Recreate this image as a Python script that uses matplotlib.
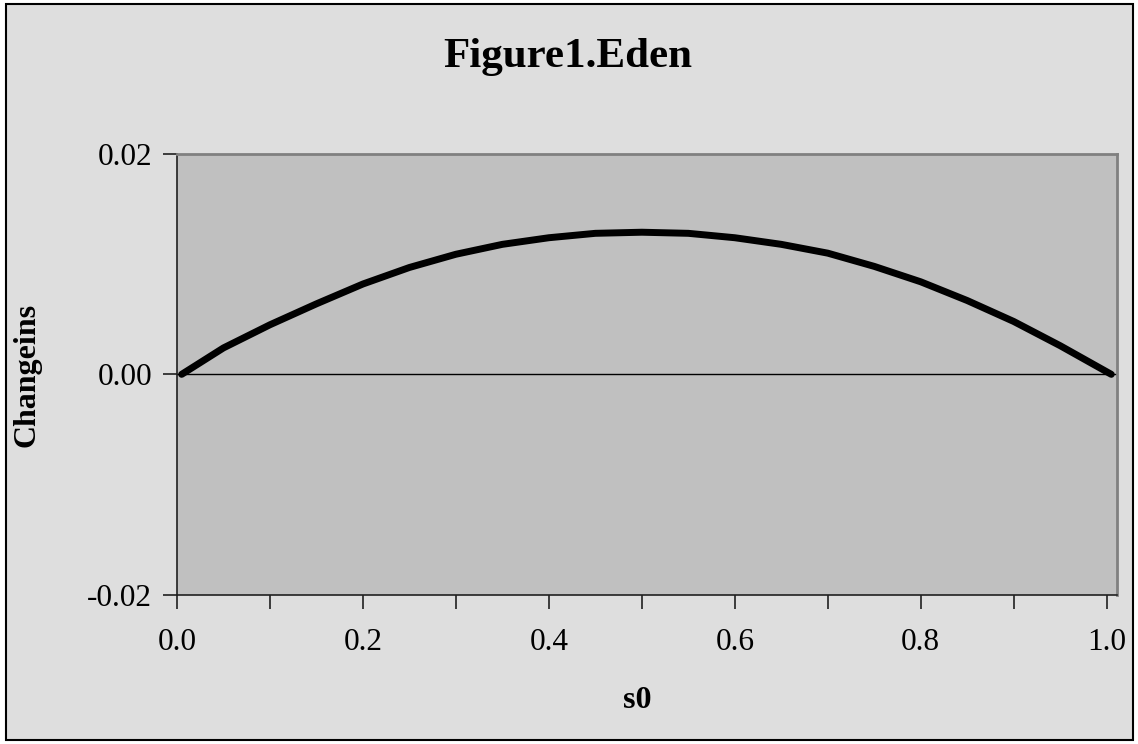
import matplotlib
matplotlib.use("Agg")
import matplotlib.pyplot as plt
from matplotlib.patches import Rectangle
from matplotlib.ticker import MultipleLocator, FixedLocator

# Data
s0 = [0.005, 0.05, 0.1, 0.15, 0.2, 0.25, 0.3, 0.35, 0.4, 0.45, 0.5,
      0.55, 0.6, 0.65, 0.7, 0.75, 0.8, 0.85, 0.9, 0.95, 1.005]
change = [0.0, 0.0024, 0.0045, 0.0064, 0.0082, 0.0097, 0.0109, 0.0118, 0.0124,
          0.0128, 0.0129, 0.0128, 0.0124, 0.0118, 0.0110, 0.0098, 0.0084,
          0.0067, 0.0048, 0.0026, 0.0]
x_ticks = [0.0, 0.2, 0.4, 0.6, 0.8, 1.0]
x_tick_labels = ["0.0", "0.2", "0.4", "0.6", "0.8", "1.0"]
y_ticks = [-0.02, 0.0, 0.02]
y_tick_labels = ["-0.02", "0.00", "0.02"]
title = "Figure1.Eden"
xlabel = "s0"
ylabel = "Changeins"

W, H = 1138, 744
fig = plt.figure(figsize=(W / 100, H / 100), dpi=100)
fig.patch.set_facecolor("white")
plt.rcParams["font.family"] = ["Liberation Serif", "DejaVu Serif"]

# outer chart area with black border
fig.patches.append(Rectangle((6 / W, 1 - 740 / H), (1133 - 6) / W, (740 - 4) / H,
                             transform=fig.transFigure, facecolor="#DEDEDE",
                             edgecolor="black", linewidth=1.5, zorder=-10))

ax = fig.add_axes([177 / W, 1 - 594.7 / H, 939.7 / W, 440.7 / H])
ax.set_zorder(1)
ax.set_facecolor("#C0C0C0")
ax.set_xlim(0.0, 1.0108)
ax.set_ylim(-0.02, 0.02)

ax.axhline(0.0, color="black", linewidth=1.0, zorder=2)
ax.plot(s0, change, color="black", linewidth=5, solid_capstyle="round",
        solid_joinstyle="round", zorder=3)

for side in ["left", "bottom"]:
    ax.spines[side].set_color("#202020")
    ax.spines[side].set_linewidth(1.2)
for side in ["top", "right"]:
    ax.spines[side].set_color("#808080")
    ax.spines[side].set_linewidth(2)

ax.xaxis.set_major_locator(FixedLocator(x_ticks))
ax.set_xticklabels(x_tick_labels)
ax.xaxis.set_minor_locator(MultipleLocator(0.1))
ax.yaxis.set_major_locator(FixedLocator(y_ticks))
ax.set_yticklabels(y_tick_labels)

ax.tick_params(axis="both", which="both", direction="out", length=10,
               width=1.2, color="#202020", labelsize=22.5, labelcolor="black")
ax.tick_params(axis="x", which="both", pad=14)
ax.tick_params(axis="y", which="both", pad=8)

fig.text(568 / W, 1 - 57 / H, title, ha="center", va="center",
         fontsize=31, fontweight="bold")
fig.text(637 / W, 1 - 700 / H, xlabel, ha="center", va="center",
         fontsize=23, fontweight="bold")
fig.text(27 / W, 1 - 375 / H, ylabel, ha="center", va="center",
         rotation=90, fontsize=23, fontweight="bold")

fig.savefig("out.png", dpi=100, facecolor=fig.get_facecolor())
